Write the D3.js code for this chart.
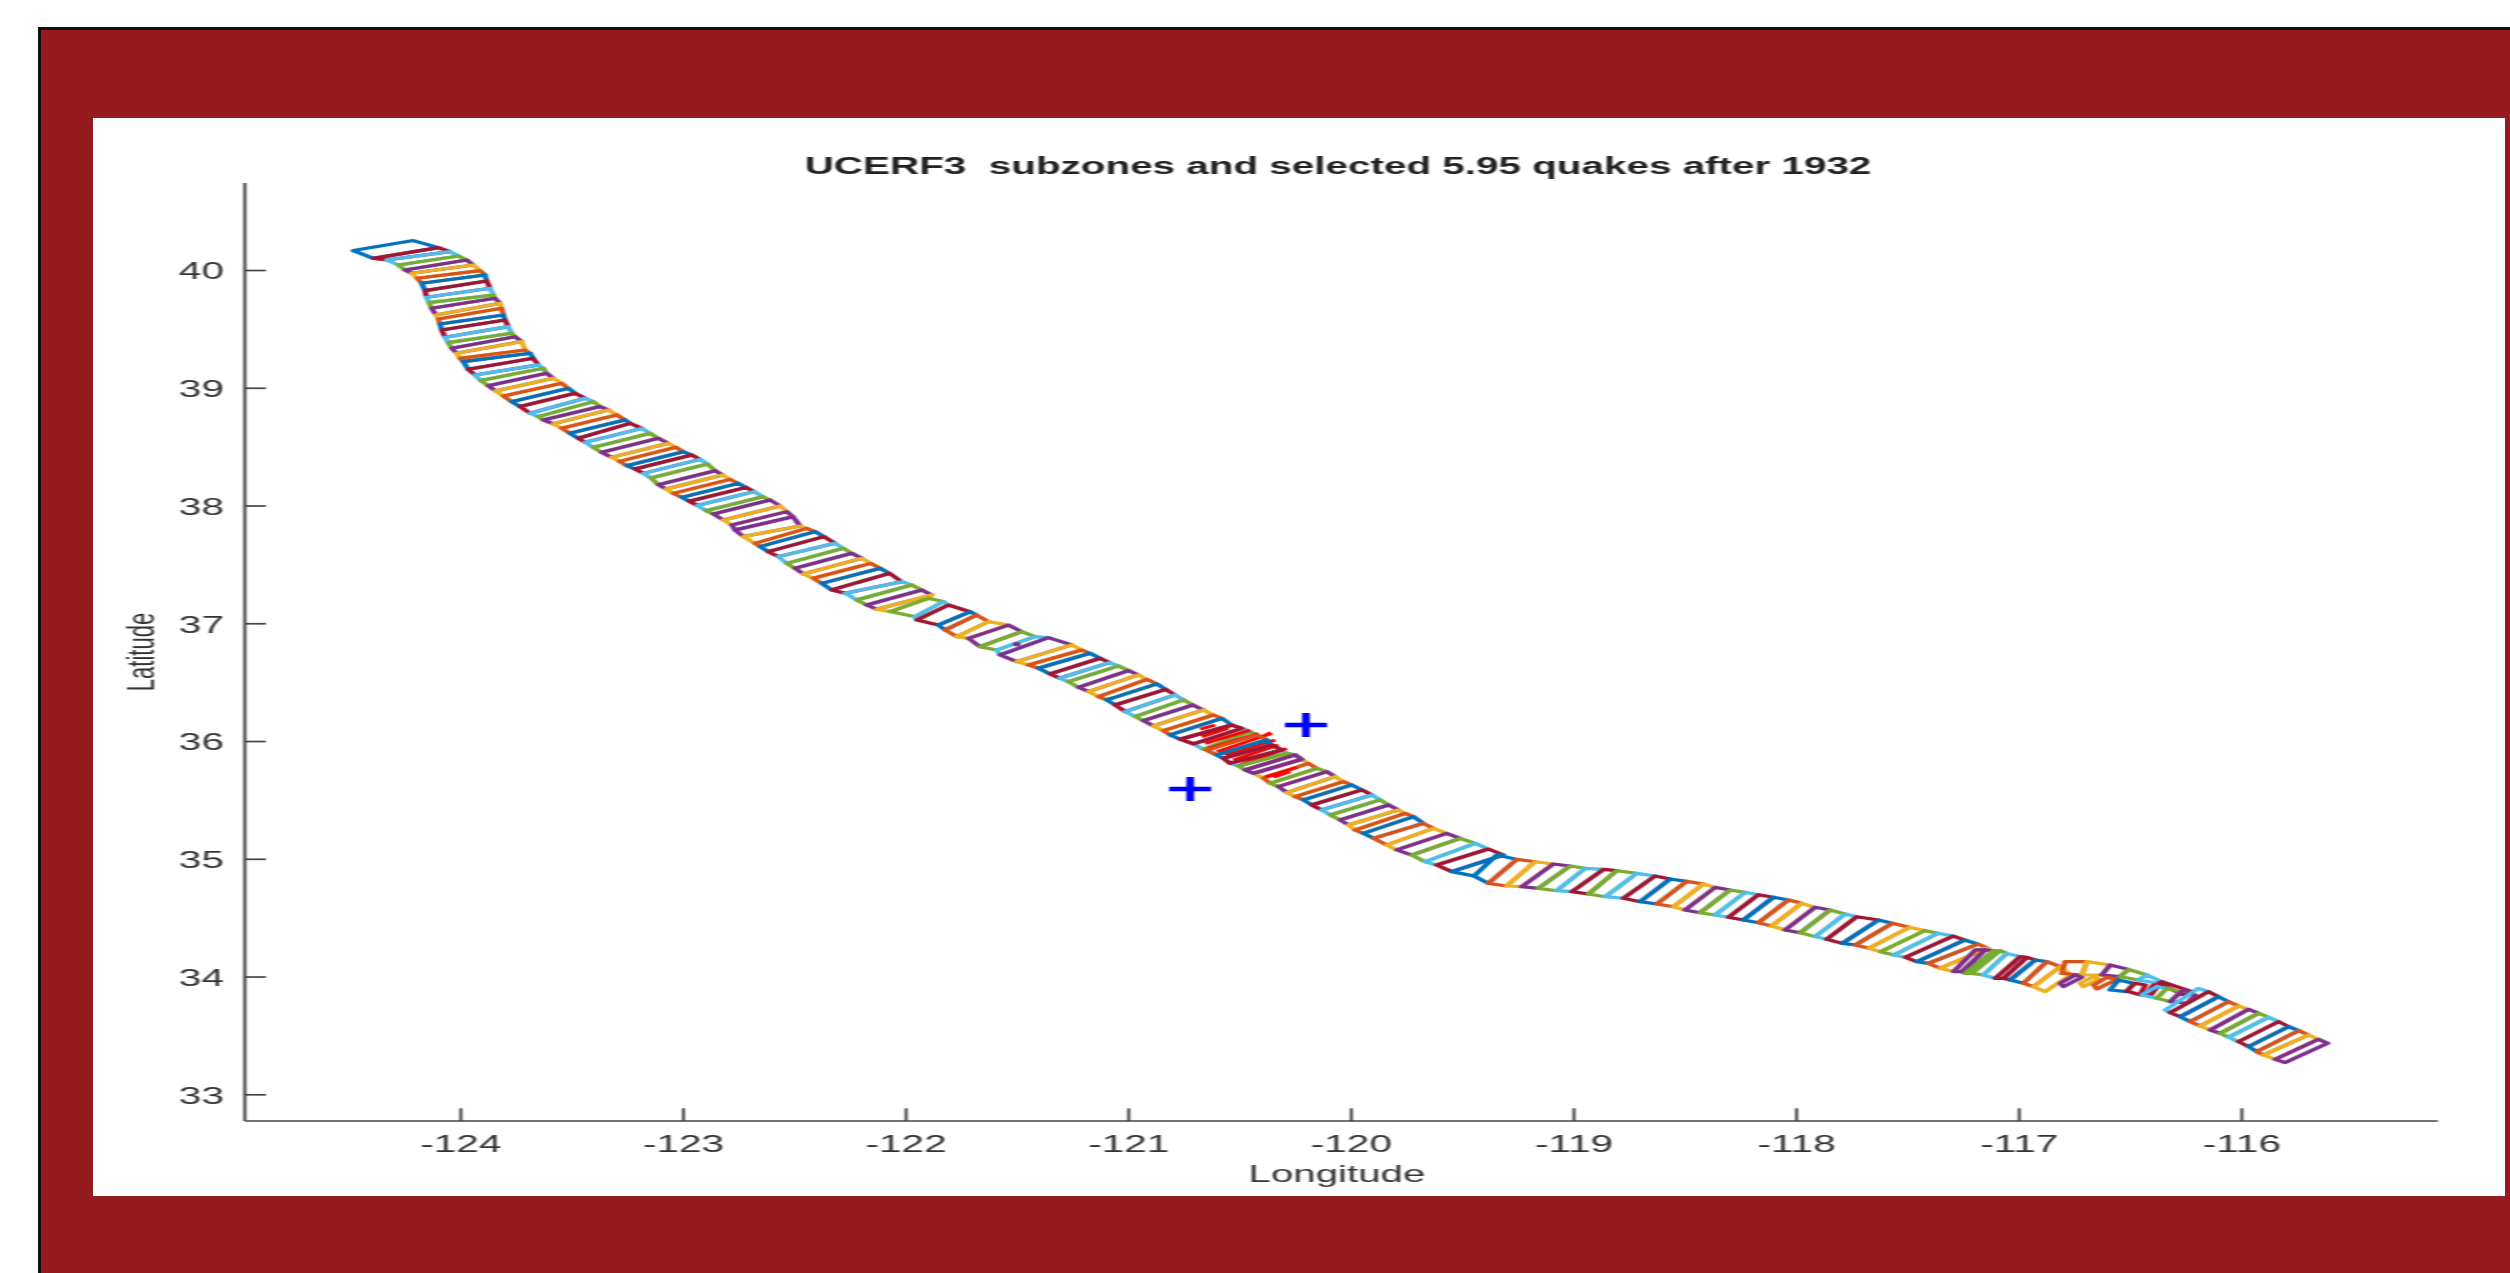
<!DOCTYPE html>
<html>
<head>
<meta charset="utf-8">
<title>UCERF3 subzones</title>
<script src="https://cdnjs.cloudflare.com/ajax/libs/d3/7.8.5/d3.min.js"></script>
<style>
  body { margin: 0; background: #fff; }
  svg { display: block; }
  text { font-family: "Liberation Sans", Arial, sans-serif; fill: #333; }
</style>
</head>
<body>
<div id="svg-container"></div>
<script>
// Corners of each subzone (lon / lat, north-west to south-east)
const eastLon = [
  -124.210,-124.097,-124.045,-124.007,-123.970,-123.940,-123.910,-123.888,-123.880,-123.865,
  -123.850,-123.843,-123.820,-123.813,-123.805,-123.798,-123.783,-123.768,-123.753,-123.723,
  -123.708,-123.685,-123.671,-123.648,-123.626,-123.611,-123.581,-123.543,-123.513,-123.483,
  -123.438,-123.401,-123.371,-123.334,-123.296,-123.259,-123.236,-123.184,-123.146,-123.109,
  -123.064,-123.030,-122.997,-122.959,-122.922,-122.889,-122.854,-122.820,-122.787,-122.750,
  -122.715,-122.679,-122.640,-122.607,-122.562,-122.532,-122.505,-122.472,-122.443,-122.405,
  -122.365,-122.315,-122.278,-122.240,-122.195,-122.155,-122.113,-122.071,-122.016,-121.971,
  -121.926,-121.881,-121.896,-121.829,-121.806,-121.709,-121.679,-121.626,-121.537,-121.477,
  -121.417,-121.357,-121.252,-121.207,-121.170,-121.125,-121.083,-121.042,-120.997,-120.953,
  -120.915,-120.870,-120.830,-120.788,-120.750,-120.708,-120.661,-120.616,-120.578,-120.533,
  -120.488,-120.451,-120.421,-120.376,-120.354,-120.309,-120.286,-120.249,-120.219,-120.189,
  -120.151,-120.106,-120.069,-120.032,-119.994,-119.949,-119.904,-119.867,-119.829,-119.785,
  -119.755,-119.717,-119.673,-119.628,-119.568,-119.508,-119.440,-119.381,-119.313,-119.343,
  -119.253,-119.171,-119.089,-119.014,-118.946,-118.864,-118.804,-118.714,-118.632,-118.564,
  -118.490,-118.415,-118.362,-118.295,-118.227,-118.168,-118.100,-118.033,-117.973,-117.913,
  -117.846,-117.778,-117.726,-117.628,-117.567,-117.490,-117.421,-117.361,-117.292,-117.241,
  -117.181,-117.138,-117.194,-117.149,-117.112,-117.082,-117.052,-116.992,-116.962,-116.924,
  -116.872,-116.812,-116.767,-116.790,-116.692,-116.588,-116.505,-116.423,-116.356,-116.221,
  -116.745,-116.715,-116.662,-116.640,-116.603,-116.558,-116.550,-116.483,-116.475,-116.430,
  -116.393,-116.381,-116.378,-116.333,-116.333,-116.273,-116.258,-116.206,-116.191,-116.146,
  -116.101,-116.056,-116.011,-115.966,-115.921,-115.876,-115.831,-115.786,-115.741,-115.697,
  -115.652,-115.611
];
const eastLat = [
  40.250,40.190,40.156,40.119,40.085,40.043,39.995,39.958,39.907,39.845,
  39.788,39.760,39.717,39.675,39.618,39.576,39.519,39.463,39.434,39.392,
  39.321,39.293,39.250,39.194,39.165,39.123,39.080,39.038,38.995,38.953,
  38.911,38.882,38.840,38.812,38.769,38.727,38.698,38.655,38.613,38.571,
  38.528,38.494,38.457,38.429,38.392,38.353,38.296,38.259,38.222,38.188,
  38.154,38.118,38.075,38.047,37.996,37.948,37.905,37.826,37.806,37.778,
  37.736,37.679,37.637,37.594,37.552,37.509,37.467,37.424,37.353,37.325,
  37.283,37.240,37.212,37.184,37.155,37.098,37.070,37.014,36.985,36.929,
  36.886,36.878,36.816,36.773,36.745,36.703,36.666,36.638,36.598,36.561,
  36.524,36.485,36.439,36.391,36.349,36.306,36.264,36.221,36.193,36.136,
  36.108,36.080,36.052,36.009,35.967,35.924,35.896,35.882,35.845,35.811,
  35.768,35.740,35.698,35.655,35.627,35.585,35.542,35.500,35.457,35.415,
  35.386,35.358,35.301,35.259,35.216,35.174,35.131,35.083,35.032,35.032,
  34.995,34.975,34.956,34.939,34.919,34.910,34.899,34.876,34.854,34.828,
  34.808,34.786,34.757,34.735,34.715,34.695,34.673,34.650,34.622,34.588,
  34.565,34.531,34.508,34.480,34.452,34.418,34.390,34.367,34.344,34.310,
  34.276,34.240,34.226,34.226,34.220,34.220,34.197,34.169,34.163,34.141,
  34.127,34.084,34.013,34.127,34.127,34.098,34.061,34.013,33.957,33.872,
  34.013,33.993,34.001,33.979,33.993,33.976,33.971,33.943,33.943,33.928,
  33.928,33.900,33.914,33.900,33.900,33.872,33.886,33.844,33.900,33.872,
  33.829,33.787,33.750,33.722,33.688,33.654,33.617,33.575,33.541,33.504,
  33.467,33.433
];
const westLon = [
  -124.479,-124.389,-124.329,-124.277,-124.247,-124.217,-124.192,-124.172,-124.157,-124.150,
  -124.139,-124.127,-124.108,-124.097,-124.090,-124.082,-124.067,-124.052,-124.037,-124.015,
  -124.000,-123.985,-123.963,-123.933,-123.907,-123.873,-123.840,-123.805,-123.768,-123.730,
  -123.685,-123.648,-123.626,-123.581,-123.543,-123.506,-123.468,-123.438,-123.401,-123.364,
  -123.319,-123.284,-123.251,-123.214,-123.176,-123.143,-123.109,-123.074,-123.042,-123.004,
  -122.970,-122.934,-122.895,-122.862,-122.817,-122.779,-122.764,-122.727,-122.675,-122.652,
  -122.615,-122.570,-122.532,-122.495,-122.457,-122.413,-122.375,-122.330,-122.270,-122.218,
  -122.173,-122.128,-122.068,-121.956,-121.948,-121.851,-121.821,-121.769,-121.716,-121.664,
  -121.589,-121.574,-121.499,-121.447,-121.402,-121.349,-121.307,-121.267,-121.222,-121.177,
  -121.132,-121.095,-121.057,-121.012,-120.967,-120.930,-120.885,-120.840,-120.810,-120.765,
  -120.705,-120.661,-120.646,-120.601,-120.571,-120.541,-120.503,-120.473,-120.436,-120.391,
  -120.361,-120.324,-120.286,-120.249,-120.211,-120.174,-120.129,-120.091,-120.047,-120.009,
  -119.980,-119.942,-119.897,-119.837,-119.792,-119.725,-119.665,-119.613,-119.545,-119.445,
  -119.381,-119.298,-119.231,-119.156,-119.074,-119.006,-118.931,-118.856,-118.774,-118.699,
  -118.624,-118.549,-118.497,-118.430,-118.362,-118.302,-118.235,-118.168,-118.108,-118.048,
  -117.980,-117.913,-117.861,-117.791,-117.731,-117.671,-117.619,-117.559,-117.507,-117.456,
  -117.404,-117.352,-117.291,-117.254,-117.239,-117.209,-117.157,-117.104,-117.067,-117.037,
  -116.977,-116.932,-116.880,-116.805,-116.715,-116.625,-116.543,-116.460,-116.370,-116.258,
  -116.812,-116.797,-116.722,-116.707,-116.662,-116.647,-116.588,-116.513,-116.513,-116.453,
  -116.423,-116.408,-116.445,-116.378,-116.378,-116.318,-116.318,-116.243,-116.340,-116.318,
  -116.273,-116.228,-116.183,-116.138,-116.093,-116.056,-116.011,-115.966,-115.929,-115.899,
  -115.846,-115.801
];
const westLat = [
  40.165,40.099,40.085,40.043,40.000,39.972,39.930,39.887,39.825,39.768,
  39.723,39.675,39.618,39.584,39.542,39.491,39.429,39.383,39.335,39.293,
  39.250,39.222,39.157,39.109,39.061,39.018,38.973,38.930,38.882,38.840,
  38.783,38.755,38.727,38.693,38.656,38.613,38.571,38.537,38.494,38.452,
  38.409,38.375,38.338,38.310,38.273,38.234,38.177,38.140,38.103,38.069,
  38.036,38.000,37.956,37.928,37.877,37.835,37.792,37.736,37.679,37.651,
  37.608,37.566,37.509,37.467,37.418,37.382,37.339,37.283,37.255,37.198,
  37.155,37.119,37.099,37.056,37.028,36.985,36.943,36.886,36.872,36.801,
  36.773,36.731,36.674,36.646,36.618,36.570,36.533,36.504,36.456,36.420,
  36.377,36.349,36.306,36.250,36.207,36.173,36.128,36.088,36.052,36.015,
  35.975,35.930,35.924,35.882,35.853,35.811,35.788,35.754,35.726,35.684,
  35.641,35.613,35.562,35.528,35.500,35.457,35.415,35.372,35.330,35.287,
  35.244,35.216,35.174,35.117,35.075,35.032,34.975,34.947,34.891,34.854,
  34.791,34.769,34.763,34.749,34.729,34.721,34.701,34.678,34.664,34.636,
  34.616,34.593,34.565,34.542,34.522,34.503,34.480,34.457,34.429,34.395,
  34.372,34.339,34.316,34.282,34.268,34.240,34.211,34.183,34.163,34.126,
  34.112,34.070,34.042,34.042,34.027,34.027,34.013,33.985,33.985,33.971,
  33.943,33.914,33.872,34.027,34.013,34.013,33.999,33.971,33.943,33.844,
  33.943,33.914,33.943,33.914,33.928,33.894,33.886,33.872,33.877,33.844,
  33.858,33.835,33.844,33.815,33.815,33.787,33.787,33.773,33.716,33.693,
  33.659,33.617,33.580,33.546,33.518,33.484,33.447,33.405,33.362,33.334,
  33.297,33.269
];
// colour of the subzone starting at each corner pair, "-" = corner pair only closes the one before
const zoneColor = (
  "b r c g p y o b r c g p y o b r c g p y o b r c g p y o b r c g p y o b r " +
  "c g p y o b r c g p y o b r c g p y p p y o b r c g p y o b r c g p y " +
  "g c r b o y p g c p y o b r c g p y o b r c g p y o b r c g " +
  "o b r c g p y o g p y o b r c g p y o b o y p g c r b b " +
  "o y p g c r g c r b o y p g c r b o y p g c r b o y g c r b o y " +
  "p p g g c r r b o y - o y p g c r - " +
  "p - y - o - b - r - r - c - g - p - " +
  "c r b o y p g c r b o y p -"
).split(" ");

const palette = { b: "#0072BD", r: "#A2142F", c: "#4DBEEE", g: "#77AC30", p: "#7E2F8E", y: "#EDB120", o: "#D95319" };

// rupture hatch of the selected quakes, bright red
const hatchLon1 = [-120.675,-120.668,-120.653,-120.638,-120.600,-120.563,-120.526,-120.496,-120.451,-120.421,-120.383,-120.346,-120.391];
const hatchLat1 = [36.099,36.037,35.980,35.938,35.909,35.881,35.839,35.796,35.768,35.731,35.697,35.691,36.042];
const hatchLon2 = [-120.608,-120.548,-120.451,-120.413,-120.353,-120.338,-120.323,-120.286,-120.256,-120.226,-120.241,-120.271,-120.358];
const hatchLat2 = [36.136,36.108,36.093,36.065,36.065,36.008,35.966,35.938,35.881,35.839,35.776,35.740,36.071];
// these few subzones sit on top of the hatch
const zonesOverHatch = [99, 102, 103, 104, 106, 107];

// quake epicentres
const quakeLon = [-120.20, -120.72];
const quakeLat = [36.136, 35.593];

const dotLon = [-121.499];
const dotLat = [36.822];

const lonTicks = [-124,-123,-122,-121,-120,-119,-118,-117,-116];
const latTicks = [33,34,35,36,37,38,39,40];

const titleText = "UCERF3  subzones and selected 5.95 quakes after 1932";

// The whole figure is stretched sideways, so it is drawn in a squeezed group
const stretch = 1.75;

const svg = d3.select("#svg-container")
    .append("svg")
    .attr("width", 2510)
    .attr("height", 1273);

// Slide frame
svg.append("rect").attr("x", 39).attr("y", 28).attr("width", 2471).attr("height", 1245).attr("fill", "#951B1E");
svg.append("path").attr("d", "M39.5,1273V28.5H2510").attr("fill", "none").attr("stroke", "#111").attr("stroke-width", 3);
svg.append("rect").attr("x", 93).attr("y", 118).attr("width", 2412).attr("height", 1078).attr("fill", "#fff");

const fig = svg.append("g")
    .attr("transform", `scale(${stretch},1)`)
    .style("filter", "blur(0.7px)");

const scaleX = d3.scaleLinear().domain([-124, -116]).range([460 / stretch, 2241 / stretch]);
const scaleY = d3.scaleLinear().domain([33, 40]).range([1094.3, 270]);
const plotBottom = 1121;
const plotTop = 183;
const plotLeft = 245 / stretch;
const plotRight = 2438 / stretch;

const quads = [];
zoneColor.forEach((c, i) => {
    if (c === "-" || i + 1 >= zoneColor.length) return;
    quads.push({
        index: i,
        color: palette[c],
        corners: [
            [westLon[i], westLat[i]],
            [eastLon[i], eastLat[i]],
            [eastLon[i + 1], eastLat[i + 1]],
            [westLon[i + 1], westLat[i + 1]]
        ]
    });
});

const quadLine = d3.line().x(d => scaleX(d[0])).y(d => scaleY(d[1])).curve(d3.curveLinearClosed);

function drawQuads(list) {
    fig.append("g").selectAll("path")
        .data(list)
        .enter()
        .append("path")
        .attr("d", d => quadLine(d.corners))
        .attr("fill", "none")
        .attr("stroke", d => d.color)
        .attr("stroke-width", 3.2)
        .attr("stroke-linejoin", "round");
}

drawQuads(quads);

fig.append("g").selectAll("line")
    .data(hatchLon1)
    .enter()
    .append("line")
    .attr("x1", d => scaleX(d))
    .attr("y1", (d, i) => scaleY(hatchLat1[i]))
    .attr("x2", (d, i) => scaleX(hatchLon2[i]))
    .attr("y2", (d, i) => scaleY(hatchLat2[i]))
    .attr("stroke", "#FF0000")
    .attr("stroke-width", 2.8);

drawQuads(quads.filter(d => zonesOverHatch.includes(d.index)));

fig.selectAll("circle.dot")
    .data(dotLon)
    .enter()
    .append("circle")
    .attr("class", "dot")
    .attr("cx", d => scaleX(d))
    .attr("cy", (d, i) => scaleY(dotLat[i]))
    .attr("r", 2.2)
    .attr("fill", palette.p);

// Epicentre crosses
fig.append("g").selectAll("path")
    .data(quakeLon)
    .enter()
    .append("path")
    .attr("transform", (d, i) => `translate(${scaleX(d)},${scaleY(quakeLat[i])})`)
    .attr("d", "M-12,0H12M0,-12V12")
    .attr("fill", "none")
    .attr("stroke", "#0000FF")
    .attr("stroke-width", 4.4);

// Axes, ticks point inward like the original
const axisX = d3.axisBottom(scaleX)
    .tickValues(lonTicks)
    .tickFormat(d => String(d))
    .tickSizeInner(-12.7)
    .tickSizeOuter(0)
    .tickPadding(15);

const axisY = d3.axisLeft(scaleY)
    .tickValues(latTicks)
    .tickFormat(d => String(d))
    .tickSizeInner(-12)
    .tickSizeOuter(0)
    .tickPadding(12);

const gx = fig.append("g").attr("transform", `translate(0,${plotBottom})`).call(axisX);
const gy = fig.append("g").attr("transform", `translate(${plotLeft},0)`).call(axisY);

gx.select(".domain").attr("d", `M${plotLeft},0H${plotRight}`);
gy.select(".domain").attr("d", `M0,${plotTop}V${plotBottom}`);

fig.selectAll(".domain, .tick line").attr("stroke", "#444").attr("stroke-width", 1.7);
fig.selectAll(".tick text").attr("font-size", 23.2).attr("font-family", null).style("fill", "#333");
gy.selectAll(".tick text").attr("dy", "0.38em");

fig.append("text")
    .attr("x", 1338 / stretch)
    .attr("y", 174.5)
    .attr("text-anchor", "middle")
    .attr("font-size", 23.1)
    .attr("font-weight", "bold")
    .style("white-space", "pre")
    .style("fill", "#222")
    .text(titleText);

fig.append("text")
    .attr("x", 1337 / stretch)
    .attr("y", 1182)
    .attr("text-anchor", "middle")
    .attr("font-size", 23)
    .text("Longitude");

fig.append("text")
    .attr("transform", `translate(${154 / stretch},652) rotate(-90)`)
    .attr("text-anchor", "middle")
    .attr("font-size", 22)
    .text("Latitude");
</script>
</body>
</html>
